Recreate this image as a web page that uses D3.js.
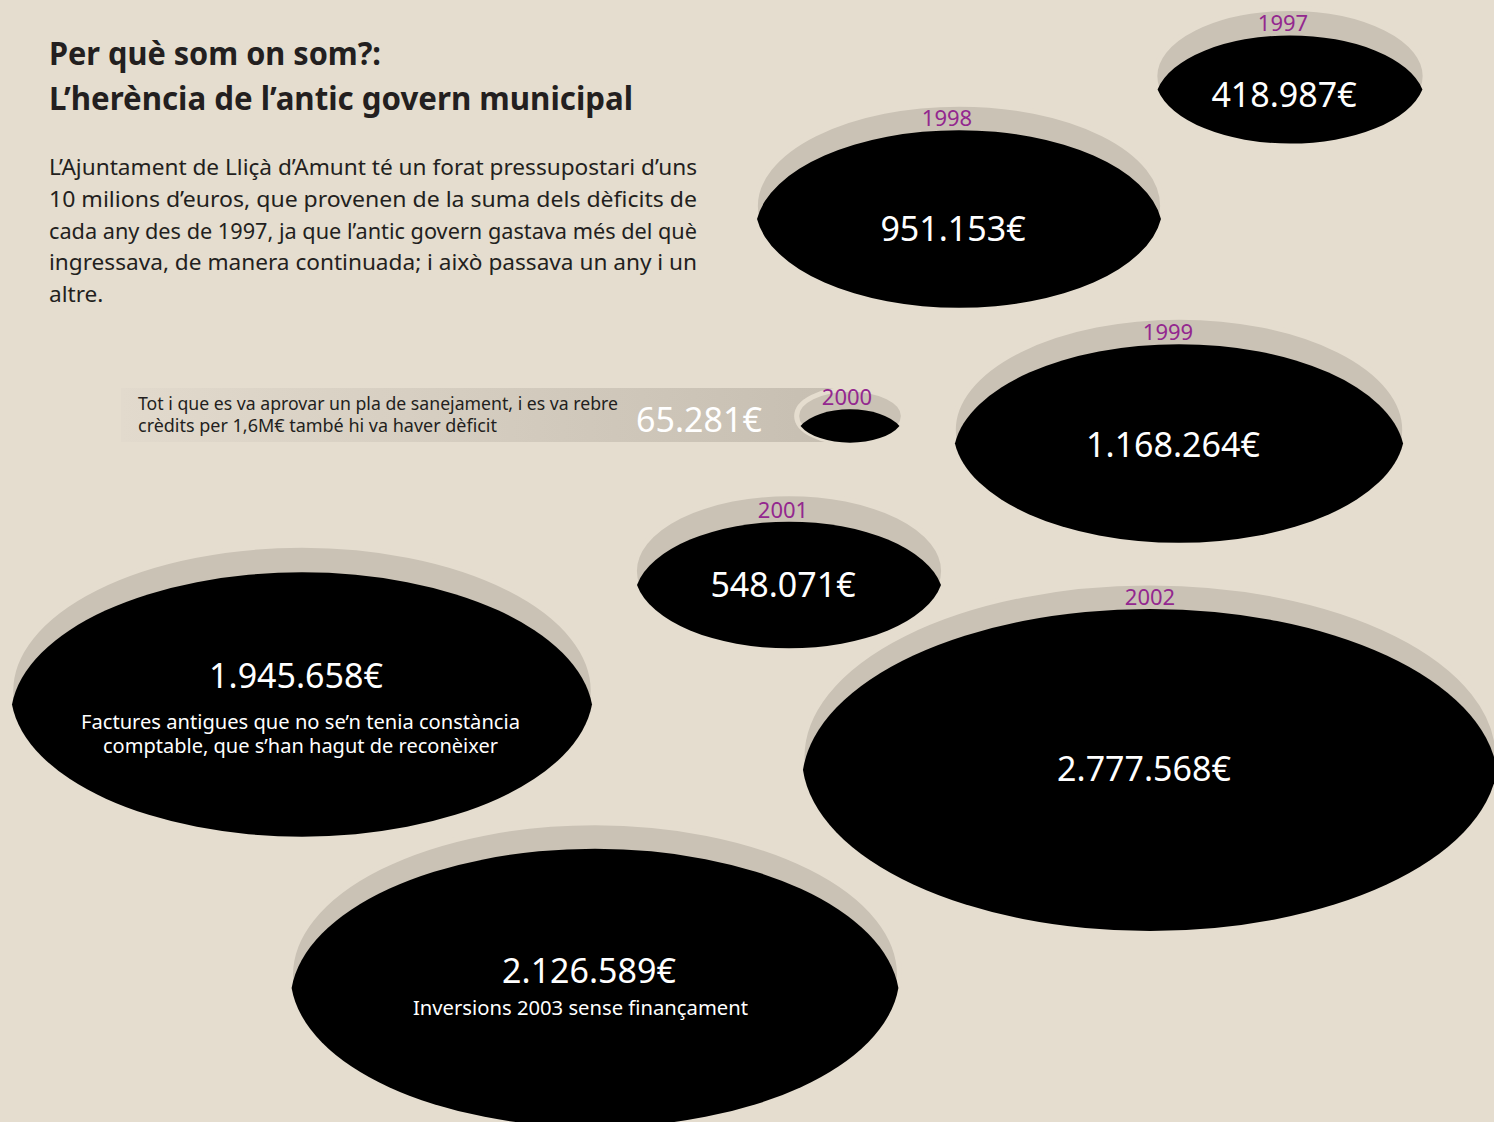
<!DOCTYPE html>
<html>
<head>
<meta charset="utf-8">
<script src="https://cdn.jsdelivr.net/npm/d3@7"></script>
<style>
  html, body { margin: 0; padding: 0; background: #e5ddcf; }
  svg { display: block; }
</style>
</head>
<body>
<div id="chart"></div>
<script>
// Data
//////////////////////////////////////////////////////////////////////
const years = ["1997", "1998", "1999", "2000", "2001", "2002", "", ""];
const deficits = [418987, 951153, 1168264, 65281, 548071, 2777568, 1945658, 2126589];
const notes = [
  [], [], [], [], [], [],
  ["Factures antigues que no se’n tenia constància", "comptable, que s’han hagut de reconèixer"],
  ["Inversions 2003 sense finançament"]
];
const titleLines = ["Per què som on som?:", "L’herència de l’antic govern municipal"];
const introLines = [
  "L’Ajuntament de Lliçà d’Amunt té un forat pressupostari d’uns",
  "10 milions d’euros, que provenen de la suma dels dèficits de",
  "cada any des de 1997, ja que l’antic govern gastava més del què",
  "ingressava, de manera continuada; i això passava un any i un",
  "altre."
];
const barLines = [
  "Tot i que es va aprovar un pla de sanejament, i es va rebre",
  "crèdits per 1,6M€ també hi va haver dèficit"
];

// Layout (where each hole sits on the page)
// cx, cy: centre of the hole's mouth, s: how far the far wall drops
//////////////////////////////////////////////////////////////////////
const layout = [
  { cx: 1290, cy: 76,  s: 27, ly: 31,  yx: -7 },
  { cx: 959,  cy: 206, s: 26, ly: 35,  yx: -12 },
  { cx: 1179, cy: 430, s: 27, ly: 27,  yx: -11 },
  { cx: 850,  cy: 416, s: 20, ly: 0,   yx: -3 },
  { cx: 789,  cy: 571, s: 28, ly: 26,  yx: -6 },
  { cx: 1150, cy: 757, s: 26, ly: 24,  yx: 0 },
  { cx: 302,  cy: 691, s: 27, ly: -3,  nx: -1.5, ny: 38 },
  { cx: 595,  cy: 975, s: 26, ly: 8,   nx: -14.5, ny: 40 }
];

const width = 1494, height = 1122;
const bg = "#e5ddcf", rimColor = "#cac2b5", purple = "#93278f", ink = "#231f20";
const font = "'Noto Sans', 'Open Sans', sans-serif";

// area of each hole follows the deficit
const r = d3.scaleSqrt().domain([0, d3.max(deficits)]).range([0, 348]);
const fmt = v => d3.format(",")(v).replace(/,/g, ".") + "€";

const holes = deficits.map((v, i) => {
  const L = layout[i];
  const rx = r(v);
  const ry = rx / 2;
  return { year: years[i], value: v, notes: notes[i], ...L, rx, ry };
});

// black part: the mouth ellipse cut by the same ellipse dropped by s
function lens(d) {
  const yc = d.cy + d.s / 2;
  const dx = d.rx * Math.sqrt(1 - Math.pow(d.s / 2 / d.ry, 2));
  return `M${d.cx - dx},${yc}A${d.rx},${d.ry} 0 0 1 ${d.cx + dx},${yc}` +
         `A${d.rx},${d.ry} 0 0 1 ${d.cx - dx},${yc}Z`;
}

const svg = d3.select("#chart").append("svg")
  .attr("width", width)
  .attr("height", height)
  .attr("viewBox", `0 0 ${width} ${height}`)
  .style("font-family", font);

svg.append("rect").attr("width", width).attr("height", height).attr("fill", bg);

// fit a line of text to a given width
function fit(sel, w) {
  if (w) sel.attr("textLength", w).attr("lengthAdjust", "spacingAndGlyphs");
}

// Title and intro
//////////////////////////////////////////////////////////////////////
const titleW = [332, 584];
svg.append("g").selectAll("text")
  .data(titleLines)
  .join("text")
  .attr("x", 49)
  .attr("y", (d, i) => 65 + i * 45)
  .attr("font-size", 32)
  .attr("font-weight", 700)
  .attr("fill", ink)
  .text(d => d)
  .each(function (d, i) { fit(d3.select(this), titleW[i]); });

const intro = svg.append("g").selectAll("text")
  .data(introLines)
  .join("text")
  .attr("x", 49)
  .attr("y", (d, i) => 175 + i * 31.8)
  .attr("font-size", 22)
  .attr("fill", ink)
  .text(d => d);
// justified lines, last one keeps the same squeeze
const squeeze = 648 / intro.nodes()[0].getComputedTextLength();
intro.each(function (d, i) {
  const w = i < introLines.length - 1 ? 648 : this.getComputedTextLength() * squeeze;
  fit(d3.select(this), w);
});

// Gradient bar for 2000
//////////////////////////////////////////////////////////////////////
const grad = svg.append("defs").append("linearGradient")
  .attr("id", "barGrad");
grad.append("stop").attr("offset", "0%").attr("stop-color", "#e2dacd");
grad.append("stop").attr("offset", "50%").attr("stop-color", "#d4ccbf");
grad.append("stop").attr("offset", "100%").attr("stop-color", "#c6beb1");

const h2000 = holes[3];
svg.append("rect")
  .attr("x", 121)
  .attr("y", 388)
  .attr("width", h2000.cx - 121)
  .attr("height", 54)
  .attr("fill", "url(#barGrad)");

const barW = [480, 359];
svg.append("g").selectAll("text")
  .data(barLines)
  .join("text")
  .attr("x", 138)
  .attr("y", (d, i) => 410 + i * 22)
  .attr("font-size", 18.5)
  .attr("fill", ink)
  .text(d => d)
  .each(function (d, i) { fit(d3.select(this), barW[i]); });

svg.append("text")
  .attr("x", 699)
  .attr("y", 432)
  .attr("text-anchor", "middle")
  .attr("font-size", 34)
  .attr("fill", "#fff")
  .text(fmt(h2000.value));

// Holes
//////////////////////////////////////////////////////////////////////
const hole = svg.append("g").selectAll("g")
  .data(holes)
  .join("g");

// far wall (mouth)
hole.append("ellipse")
  .attr("cx", d => d.cx)
  .attr("cy", d => d.cy)
  .attr("rx", d => d.rx)
  .attr("ry", d => d.ry)
  .attr("fill", rimColor)
  .attr("stroke", bg)
  .attr("stroke-width", 5);

// black hole
hole.append("path")
  .attr("d", lens)
  .attr("fill", "#000");

// year
hole.filter(d => d.year)
  .append("text")
  .attr("x", d => d.cx + d.yx)
  .attr("y", d => d.cy - d.ry + d.s - 4)
  .attr("text-anchor", "middle")
  .attr("font-size", 22)
  .attr("fill", purple)
  .text(d => d.year);

// amount
hole.filter((d, i) => i !== 3)
  .append("text")
  .attr("x", d => d.cx - 6)
  .attr("y", d => d.cy + d.ly)
  .attr("text-anchor", "middle")
  .attr("font-size", 34)
  .attr("fill", "#fff")
  .text(d => fmt(d.value));

// notes
const noteW = { "Factures antigues que no se’n tenia constància": 439,
                "comptable, que s’han hagut de reconèixer": 395,
                "Inversions 2003 sense finançament": 335 };
hole.filter(d => d.notes.length)
  .each(function (d) {
    d3.select(this).selectAll("text.note")
      .data(d.notes)
      .join("text")
      .attr("class", "note")
      .attr("x", d.cx + d.nx)
      .attr("y", (t, i) => d.cy + d.ny + i * 24)
      .attr("text-anchor", "middle")
      .attr("font-size", 20)
      .attr("fill", "#fff")
      .text(t => t)
      .each(function (t) { fit(d3.select(this), noteW[t]); });
  });
</script>
</body>
</html>
